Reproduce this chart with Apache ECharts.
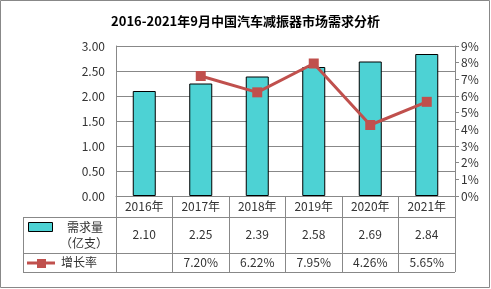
<!DOCTYPE html>
<html><head><meta charset="utf-8">
<script src="https://cdn.jsdelivr.net/npm/echarts@6/dist/echarts.min.js"></script>
<style>html,body{margin:0;padding:0;background:#fff}#c{width:491px;height:289px}</style>
</head><body><div id="c"></div>
<script>
const titleText = '2016-2021年9月中国汽车减振器市场需求分析';
const categories = ['2016年','2017年','2018年','2019年','2020年','2021年'];
const demand = [2.10, 2.25, 2.39, 2.58, 2.69, 2.84];
const growth = [null, 7.20, 6.22, 7.95, 4.26, 5.65];
const leftTicks = {min: 0, max: 3, interval: 0.5};
const rightTicks = {min: 0, max: 9, interval: 1};

const FONT = '"Noto Sans CJK SC", "Noto Sans", sans-serif';
const GRAY = '#888888';
const TXT = '#333333';
const chart = echarts.init(document.getElementById('c'), null, {renderer: 'canvas'});

const valueAxis = (idx, labels, offset) => ({
  type: 'category', data: categories, gridIndex: 0, position: 'bottom', offset: offset,
  axisLine: {show: false}, axisTick: {show: false},
  axisLabel: {margin: 4, fontFamily: FONT, fontSize: 12, color: TXT,
    formatter: (v, i) => labels[i]}
});

chart.setOption({
  animation: false,
  backgroundColor: '#fff',
  title: {text: titleText, left: 'center', top: 10,
    textStyle: {fontFamily: FONT, fontSize: 13, fontWeight: 'bold', color: '#000'}},
  grid: {left: 116, right: 36, top: 46, bottom: 93},
  xAxis: [
    {type: 'category', data: categories,
      axisLine: {show: true, lineStyle: {color: GRAY, width: 1}},
      axisTick: {show: true, length: 76, lineStyle: {color: GRAY}},
      axisLabel: {margin: 4, fontFamily: FONT, fontSize: 12, color: TXT}},
    valueAxis(1, demand.map(v => v.toFixed(2)), 28),
    valueAxis(2, growth.map(v => v == null ? '' : v.toFixed(2) + '%'), 56)
  ],
  yAxis: [
    {type: 'value', min: leftTicks.min, max: leftTicks.max, interval: leftTicks.interval,
      axisLine: {show: true, lineStyle: {color: GRAY}}, axisTick: {show: false},
      splitLine: {show: true, lineStyle: {color: GRAY}},
      axisLabel: {margin: 11, fontFamily: FONT, fontSize: 12, color: TXT, formatter: v => v.toFixed(2)}},
    {type: 'value', min: rightTicks.min, max: rightTicks.max, interval: rightTicks.interval, position: 'right',
      axisLine: {show: true, lineStyle: {color: GRAY}},
      axisTick: {show: true, length: 4, lineStyle: {color: GRAY}},
      splitLine: {show: false},
      axisLabel: {margin: 6, fontFamily: FONT, fontSize: 12, color: TXT, formatter: v => v + '%'}}
  ],
  series: [
    {type: 'bar', name: '需求量（亿支）', data: demand, barWidth: 23, yAxisIndex: 0, xAxisIndex: 0,
      itemStyle: {color: '#4DD2D4', borderColor: '#000', borderWidth: 1}},
    {type: 'line', name: '增长率', data: growth, yAxisIndex: 1, xAxisIndex: 0,
      symbol: 'rect', symbolSize: 10, connectNulls: false,
      lineStyle: {color: '#C0504D', width: 3}, itemStyle: {color: '#C0504D'}}
  ]
});

// table frame + legend cells
function drawTable() {
  const x0 = chart.convertToPixel({gridIndex: 0}, [0, 0]);
  const yAxisBottom = chart.convertToPixel({yAxisIndex: 0}, 0);
  const left = 23, right = 455;
  const rows = [yAxisBottom + 21, yAxisBottom + 57, yAxisBottom + 76];
  const g = [];
  rows.forEach(y => g.push({type: 'line', shape: {x1: left, y1: Math.round(y) + 0.5, x2: right, y2: Math.round(y) + 0.5},
    style: {stroke: GRAY, lineWidth: 1}}));
  g.push({type: 'line', shape: {x1: left + 0.5, y1: Math.round(rows[0]), x2: left + 0.5, y2: Math.round(rows[2]) + 1},
    style: {stroke: GRAY, lineWidth: 1}});
  // legend icons
  g.push({type: 'rect', shape: {x: 28.5, y: 222.5, width: 24, height: 9}, style: {fill: '#4DD2D4', stroke: '#000', lineWidth: 1}});
  g.push({type: 'line', shape: {x1: 27, y1: 263, x2: 55, y2: 263}, style: {stroke: '#C0504D', lineWidth: 3}});
  g.push({type: 'rect', shape: {x: 37, y: 259, width: 9, height: 9}, style: {fill: '#C0504D'}});
  g.push({type: 'text', x: 85, y: 227, style: {text: '需求量', font: '12px ' + FONT, fill: TXT, textAlign: 'center', textVerticalAlign: 'middle'}});
  g.push({type: 'text', x: 84, y: 243, style: {text: '（亿支）', font: '12px ' + FONT, fill: TXT, textAlign: 'center', textVerticalAlign: 'middle'}});
  g.push({type: 'text', x: 79, y: 262, style: {text: '增长率', font: '12px ' + FONT, fill: TXT, textAlign: 'center', textVerticalAlign: 'middle'}});
  // outer border
  g.push({type: 'rect', shape: {x: 0.5, y: 0.5, width: 489, height: 287}, style: {fill: 'none', stroke: GRAY, lineWidth: 1}});
  chart.setOption({graphic: g});
}
drawTable();
</script></body></html>
